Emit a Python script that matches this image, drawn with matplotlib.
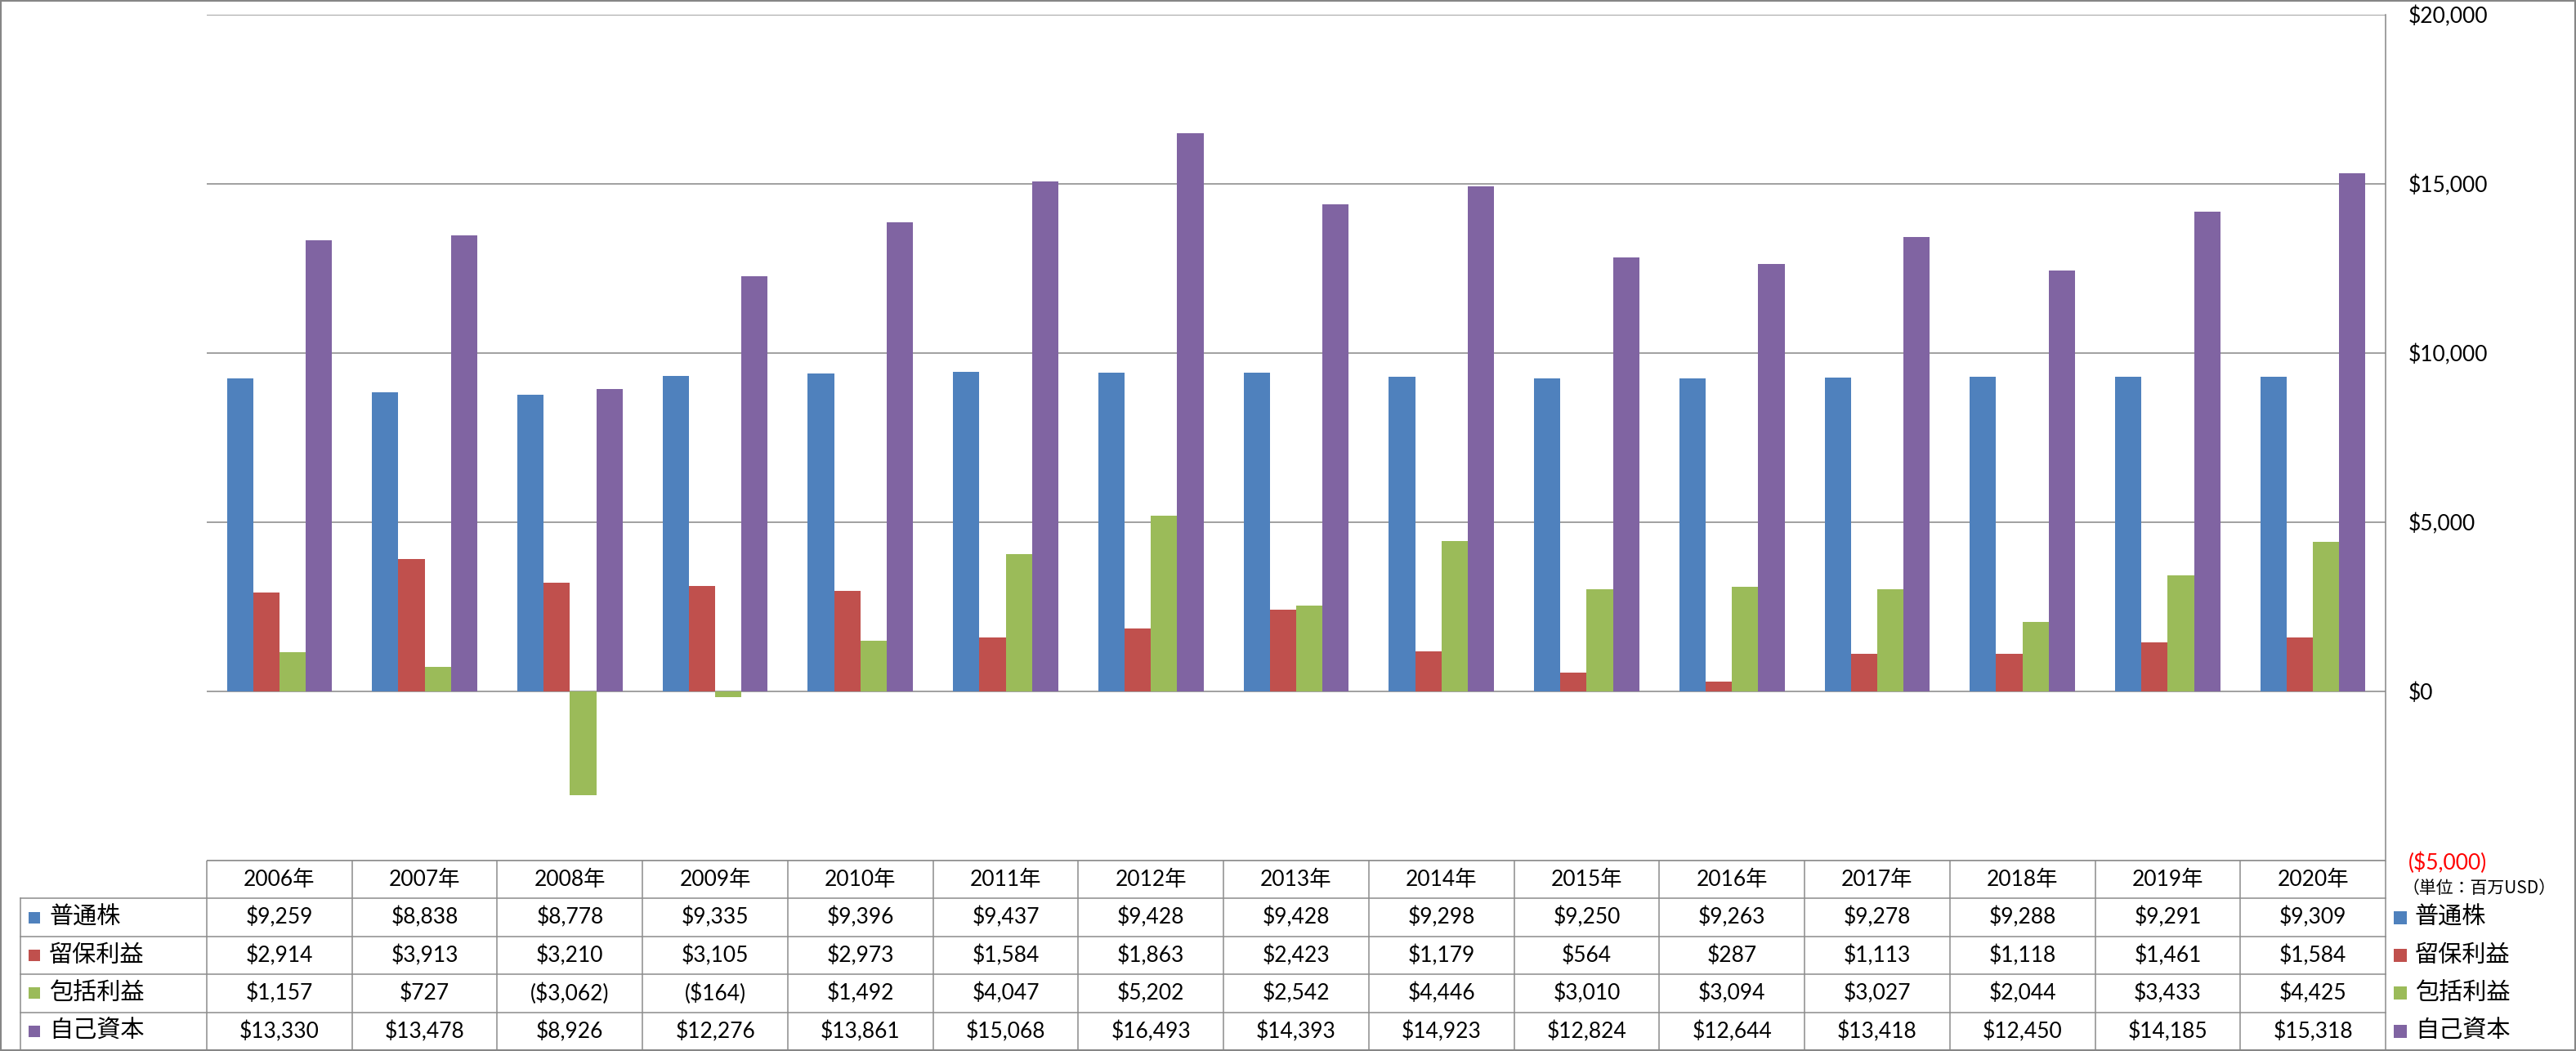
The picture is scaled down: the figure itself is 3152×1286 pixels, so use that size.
import numpy as np
import matplotlib
matplotlib.use('Agg')
import matplotlib.pyplot as plt
from matplotlib import transforms
from matplotlib.patches import Rectangle

# data (million USD)
years = ['2006年', '2007年', '2008年', '2009年', '2010年', '2011年', '2012年', '2013年',
         '2014年', '2015年', '2016年', '2017年', '2018年', '2019年', '2020年']
series_names = ['普通株', '留保利益', '包括利益', '自己資本']
common_stock = [9259, 8838, 8778, 9335, 9396, 9437, 9428, 9428, 9298, 9250, 9263, 9278, 9288, 9291, 9309]
retained_earnings = [2914, 3913, 3210, 3105, 2973, 1584, 1863, 2423, 1179, 564, 287, 1113, 1118, 1461, 1584]
comprehensive_income = [1157, 727, -3062, -164, 1492, 4047, 5202, 2542, 4446, 3010, 3094, 3027, 2044, 3433, 4425]
equity = [13330, 13478, 8926, 12276, 13861, 15068, 16493, 14393, 14923, 12824, 12644, 13418, 12450, 14185, 15318]
y_ticks = [-5000, 0, 5000, 10000, 15000, 20000]
unit_label = '（単位：百万USD）'

series = [common_stock, retained_earnings, comprehensive_income, equity]
colors = ['#4F81BD', '#C0504D', '#9BBB59', '#8064A2']
grid_gray = '#868686'
line_gray = '#8C8C8C'

plt.rcParams['font.family'] = ['Lato', 'Noto Sans CJK JP']
jp = ['Noto Sans CJK JP', 'DejaVu Sans']


def money(v):
    return f'${v:,}' if v >= 0 else f'(${-v:,})'


W, H = 3152, 1286
fig = plt.figure(figsize=(W / 100, H / 100), dpi=100)
fig.patch.set_facecolor('white')


def fx(px):
    return px / W


# plot area in pixels
plot_l, plot_r, plot_t, plot_b = 253, 2919, 18, 1053
table_b = 1285

ax = fig.add_axes([fx(plot_l), 1 - plot_b / H, fx(plot_r - plot_l), (plot_b - plot_t) / H])
x = np.arange(len(years))
bw = 0.181
for k, vals in enumerate(series):
    ax.bar(x + (k - 1.5) * bw, vals, bw, color=colors[k], zorder=3, linewidth=0)

ax.set_xlim(-0.5, len(years) - 0.5)
ax.set_ylim(y_ticks[0], y_ticks[-1])
ax.set_xticks([])
ax.set_yticks(y_ticks)
ax.set_yticklabels([money(v) for v in y_ticks])
ax.yaxis.tick_right()
ax.tick_params(axis='y', length=0, pad=20, labelsize=19)
ax.get_yticklabels()[0].set_color('red')
ax.grid(axis='y', color=grid_gray, linewidth=1.1, zorder=0)
for s in ['top', 'left', 'bottom']:
    ax.spines[s].set_visible(False)
ax.spines['right'].set_color(grid_gray)
ax.spines['right'].set_linewidth(1.1)

# data table
tax = fig.add_axes([fx(plot_l), 1 - table_b / H, fx(plot_r - plot_l), (table_b - plot_b) / H])
tax.set_xlim(ax.get_xlim())
tax.set_ylim(5, 0)
tax.axis('off')
blend = transforms.blended_transform_factory(fig.transFigure, tax.transData)

tax.hlines(0, -0.5, len(years) - 0.5, color=line_gray, lw=1.1, clip_on=False)
for r in range(1, 6):
    tax.plot([fx(25), fx(plot_r)], [r, r], color=line_gray, lw=1.1, transform=blend, clip_on=False)
tax.vlines(np.arange(len(years) + 1) - 0.5, 0, 5, color=line_gray, lw=1.1, clip_on=False)
tax.plot([fx(25), fx(25)], [1, 5], color=line_gray, lw=1.1, transform=blend, clip_on=False)

for i, yr in enumerate(years):
    tax.text(i, 0.5, yr, ha='center', va='center', fontsize=19)
for r, (name, vals) in enumerate(zip(series_names, series), start=1):
    for i, v in enumerate(vals):
        tax.text(i, r + 0.5, money(v), ha='center', va='center', fontsize=19)
    # row label with key
    tax.plot([fx(42)], [r + 0.5], marker='s', ms=10.5, color=colors[r - 1], mew=0,
             transform=blend, clip_on=False)
    tax.text(fx(60), r + 0.5, name, ha='left', va='center', fontsize=21, family=jp,
             transform=blend)
    # legend on the right
    tax.plot([fx(2937)], [r + 0.5], marker='s', ms=11.5, color=colors[r - 1], mew=0,
             transform=blend, clip_on=False)
    tax.text(fx(2955), r + 0.5, name, ha='left', va='center', fontsize=21, family=jp,
             transform=blend)

fig.text(fx(2940), 1 - 1087 / H, unit_label, ha='left', va='center', fontsize=15, family=jp)

# outer frame
fig.add_artist(Rectangle((0, 0), 1, 1, transform=fig.transFigure, fill=False,
                         edgecolor=grid_gray, linewidth=3))

fig.savefig('out.png', dpi=100, facecolor='white')
